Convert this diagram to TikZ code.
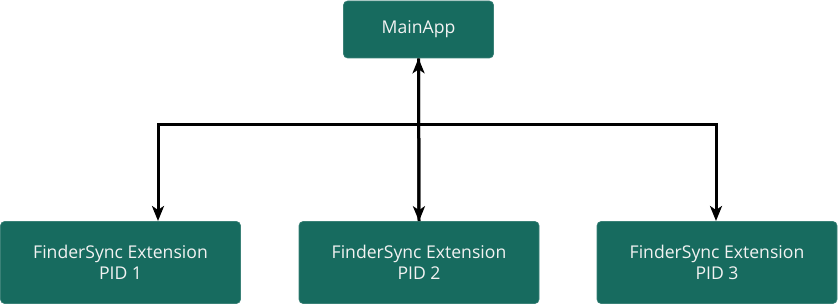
\documentclass[tikz,border=0pt]{standalone}
\usepackage{fontspec}
\setmainfont{Open Sans}
\usetikzlibrary{arrows.meta,calc}
\definecolor{boxfill}{HTML}{176B5F}
\definecolor{boxtext}{HTML}{F2F2F2}
\tikzset{
  appbox/.style={draw=boxfill!85!white, line width=0.6pt, fill=boxfill, rounded corners=4pt,
    text=boxtext, font=\fontsize{17.6}{21}\selectfont, align=center, inner sep=0pt},
  conn/.style={line width=3pt, -{Stealth[length=15pt,width=12pt,inset=4pt]}},
}
\begin{document}
\begin{tikzpicture}[x=1pt,y=-1pt]
\useasboundingbox (0,0) rectangle (838,305);
\node[appbox, minimum width=150pt, minimum height=57pt] (main) at (418.5,29.5) {MainApp};
\node[appbox, minimum width=240pt, minimum height=82pt] (p1) at (120.5,262.5) {FinderSync Extension\\PID 1};
\node[appbox, minimum width=240pt, minimum height=82pt] (p2) at (419,262.5) {FinderSync Extension\\PID 2};
\node[appbox, minimum width=240pt, minimum height=82pt] (p3) at (717,262.5) {FinderSync Extension\\PID 3};
\coordinate (j) at (418.5,124);
\coordinate (t1) at (158,221);
\coordinate (t3) at (716,221);
\draw[conn] (p2.north) -- (main.south);
\draw[conn] (main.south) -- (p2.north);
\draw[conn] (j) -| (t1);
\draw[conn] (j) -| (t3);
\end{tikzpicture}
\end{document}
